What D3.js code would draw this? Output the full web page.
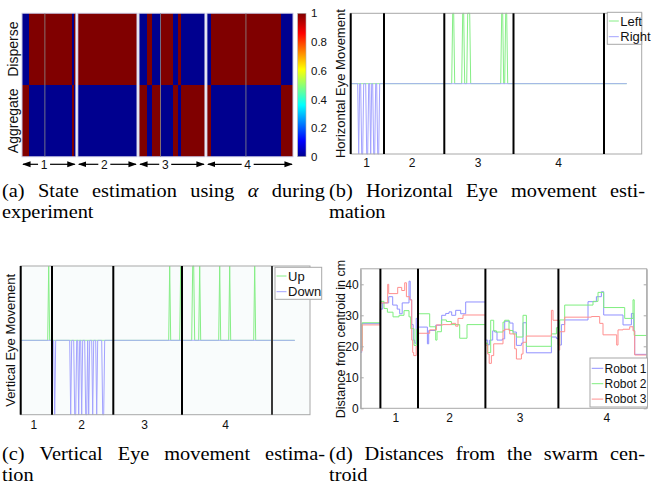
<!DOCTYPE html>
<html>
<head>
<meta charset="utf-8">
<script src="https://cdn.jsdelivr.net/npm/d3@7"></script>
<style>
  body { margin: 0; background: #fff; }
  svg { display: block; }
  .ax text, .lbl { font-family: Arial, "Liberation Sans", sans-serif; fill: #111; }
  .cap text { font-family: "Liberation Serif", "Times New Roman", serif; font-size: 18.5px; fill: #000; }
</style>
</head>
<body>
<svg id="fig" width="653" height="485"></svg>
<script>
// ---------- data ----------
// (a) state of alpha per phase, run-length: [Disperse value, samples]
const alphaRuns = [
  [[0, 5], [1, 32], [0, 2], [1, 1]],
  [[1, 44]],
  [[0, 6], [1, 4], [0, 6], [1, 9], [0, 4], [1, 2], [0, 18]],
  [[0, 3], [1, 52], [0, 9]]
];
const alphaEdges = [[0, 17], [2, 16], [3, 29]];   // [phase, sample] faint cell edges
const alphaLabelAt = [16.4, 19.7, 19.5, 30.3];
const phases = ["1", "2", "3", "4"];
const states = ["Disperse", "Aggregate"];
const colorTicks = [0, 0.2, 0.4, 0.6, 0.8, 1];

// (b) horizontal eye movement: samples where the saccade flag is on
const hBounds = [0, 33.3, 93.6, 162.8, 253.3];
const hLabelAt = [15.5, 61, 127, 207.5];
const hEnd = 276;
const leftOn = [102, 103, 112, 113, 117, 118, 119, 151, 152, 155, 156];
const rightOn = [8, 11, 12, 16, 17, 20, 23, 24, 27, 28];

// (c) vertical eye movement
const vBounds = [0, 31.3, 92.6, 161.3, 251.3];
const vLabelAt = [12.6, 60.3, 123.3, 204.3];
const vEnd = 274;
const upOn = [28, 149, 160, 172, 173, 179, 199, 209, 234];
const downOn = [34, 50, 54, 55, 58, 61, 65, 66, 68, 72, 76, 82, 83];

// (d) distance from swarm centroid (cm), [time, value] steps
const dBounds = [19.7, 57.3, 124.7, 197.7];
const dLabelAt = [34.7, 88.3, 159, 245.7];
const dTicks = [0, 10, 20, 30, 40];
const robot1 = [[0,18],[1,27.3],[19.7,32],[22,34],[28,36],[32,33.3],[36.5,32],[39,30.5],[41.5,34],[48.3,41],[49.5,35],[51,27],[52.5,22],[54,21],[55.5,29],
  [57.3,26.2],[66.7,20.8],[68,25.1],[75,26.8],[81,30],[85,30.6],[88.3,31.1],[91,30],[95,31.6],[100,30.5],[105,34.3],
  [124.7,22],[127,20.5],[129,22],[132,25],[134,24.6],[136.3,22],[141.7,22.4],[144,28.1],[149,27.5],[152.3,24.6],[155.7,20.3],[160.7,21],[162.3,27.6],[165.7,17.9],[190.7,23],[195.7,22.5],
  [197.7,20.4],[200.7,27],[204,28.5],[227.3,34.4],[235.7,36],[240.7,37.6],[243,30.1],[262.3,26.9],[270.7,30.6],[273,25],[274,17.4],[286,17.4]];
const robot2 = [[0,19],[1.5,27.6],[19.7,34.5],[23.3,32.2],[26.7,31],[32.3,29.5],[38.3,30],[43.3,31.5],[48.3,29.5],[50,25.7],[53.3,20.3],[55.7,25.5],
  [57.3,30.5],[69,26.3],[75,22],[76.3,24.7],[80.7,28.5],[85.7,28],[90.7,27],[99,22.6],[106.3,27],
  [124.7,21],[127,18],[130,28.4],[133,25],[135.7,24.6],[142.3,27.8],[144,28.4],[148.3,25.1],[152.3,24],[155.7,23],[162.3,30],[165.7,20],[190.7,24],[195.7,26],
  [197.7,20.4],[199,28.5],[204,33.3],[232.3,34.5],[237.3,37.4],[243,32.5],[264,29],[272.3,35],[273.5,23.5],[286,23.5]];
const robot3 = [[0,18.5],[1.5,26.9],[19.7,34],[27,40],[28,37],[37,39],[41,38],[44,40.5],[45.7,36],[49,35],[51,22],[52,18],[53,17],[55.5,20],
  [57.3,24.2],[69,25.3],[75.7,26.9],[82.3,27],[90.7,27.4],[95,26.5],[97.3,29],[102.3,30.1],
  [124.7,20.4],[127,17.5],[128.5,14.5],[130.7,17],[133,20.8],[142.3,25.1],[144,25.5],[149,24],[154,19.2],[155.7,15.9],[160.7,17.5],[162.3,21.3],[165.7,23.3],[190.7,31.6],[192.3,28.4],
  [197.7,18.8],[199,24.7],[204,29.4],[230.7,29.6],[239,27.4],[242.3,23.7],[256,20.4],[257.3,25.3],[262.3,25.5],[269,26.3],[272.3,25],[274,17.2],[286,17.2]];

const captions = [
  {x0: 2, x1: 325, y: 197, lines: ["(a) State estimation using α during", "experiment"]},
  {x0: 329, x1: 645, y: 197, lines: ["(b) Horizontal Eye movement esti-", "mation"]},
  {x0: 2, x1: 325, y: 460, lines: ["(c) Vertical Eye movement estima-", "tion"]},
  {x0: 329, x1: 645, y: 460, lines: ["(d) Distances from the swarm cen-", "troid"]}
];

const svg = d3.select("#fig");
const boxGray = "#a8a8a8";

// jet colormap
const jet = d3.scaleLinear()
  .domain([0, 0.11, 0.36, 0.61, 0.86, 1])
  .range(["#00008f", "#0000ff", "#00ffff", "#ffff00", "#ff0000", "#800000"]);

// ---------- (a) heatmap ----------
function drawHeatmap() {
  const gap = 1.5;
  const sizes = alphaRuns.map(r => d3.sum(r, d => d[1]));
  const offsets = [];
  let acc = 0;
  sizes.forEach(s => { offsets.push(acc); acc += s + gap; });
  const total = acc - gap;
  const x = d3.scaleLinear().domain([0, total]).range([22, 293]);
  const y = d3.scaleBand().domain(states).range([13.3, 156.7]);
  const g = svg.append("g");

  alphaRuns.forEach((runs, p) => {
    let t = offsets[p];
    runs.forEach(([v, n]) => {
      states.forEach((s, k) => {
        g.append("rect")
          .attr("x", x(t)).attr("width", x(t + n) - x(t))
          .attr("y", y(s)).attr("height", y.bandwidth())
          .attr("fill", jet(k === 0 ? v : 1 - v))
          .attr("shape-rendering", "crispEdges");
      });
      t += n;
    });
    g.append("rect")
      .attr("x", x(offsets[p])).attr("width", x(offsets[p] + sizes[p]) - x(offsets[p]))
      .attr("y", 13.3).attr("height", 143.4)
      .attr("fill", "none").attr("stroke", "#c9c9e4").attr("stroke-width", 1);
  });
  alphaEdges.forEach(([p, s]) => {
    g.append("line")
      .attr("x1", x(offsets[p] + s)).attr("x2", x(offsets[p] + s))
      .attr("y1", 13.3).attr("y2", 156.7)
      .attr("stroke", "#8a8a8a").attr("stroke-width", 1).attr("opacity", 0.8);
  });

  // row labels
  states.forEach(s => {
    svg.append("text").attr("class", "lbl")
      .attr("transform", `translate(18,${y(s) + y.bandwidth() / 2}) rotate(-90)`)
      .attr("text-anchor", "middle").style("font-size", "14px").text(s);
  });

  // phase arrows
  const defs = svg.append("defs");
  defs.append("marker").attr("id", "arr").attr("viewBox", "0 0 10 10")
    .attr("refX", 9).attr("refY", 5).attr("markerWidth", 7).attr("markerHeight", 7)
    .attr("orient", "auto-start-reverse")
    .append("path").attr("d", "M0,1.5L10,5L0,8.5Z").attr("fill", "#000");
  const ay = 164.3;
  alphaRuns.forEach((r, p) => {
    const x0 = x(offsets[p]), x1 = x(offsets[p] + sizes[p]), xm = x(offsets[p] + alphaLabelAt[p]);
    g.append("line").attr("x1", xm - 6).attr("x2", x0 + 1).attr("y1", ay).attr("y2", ay)
      .attr("stroke", "#000").attr("stroke-width", 1.2).attr("marker-end", "url(#arr)");
    g.append("line").attr("x1", xm + 6).attr("x2", x1 - 1).attr("y1", ay).attr("y2", ay)
      .attr("stroke", "#000").attr("stroke-width", 1.2).attr("marker-end", "url(#arr)");
    g.append("text").attr("class", "lbl").attr("x", xm).attr("y", ay)
      .attr("text-anchor", "middle").attr("dy", "0.36em").style("font-size", "12px").text(phases[p]);
  });

  // colorbar
  const grad = defs.append("linearGradient").attr("id", "jetg")
    .attr("x1", 0).attr("y1", 1).attr("x2", 0).attr("y2", 0);
  jet.domain().forEach((d, i) => grad.append("stop").attr("offset", d).attr("stop-color", jet.range()[i]));
  const cy = d3.scaleLinear().domain([0, 1]).range([156.7, 13.3]);
  svg.append("rect").attr("x", 297.7).attr("y", 13.3).attr("width", 8.3).attr("height", 143.4)
    .attr("fill", "url(#jetg)").attr("stroke", "#b0b0b0").attr("stroke-width", 0.6);
  const cax = svg.append("g").attr("class", "ax").attr("transform", "translate(306,0)")
    .call(d3.axisRight(cy).tickValues(colorTicks).tickFormat(d3.format("~g")).tickSize(0).tickPadding(5));
  cax.select(".domain").remove();
  cax.selectAll("text").style("font-size", "11.5px");
}

// ---------- (b), (c) eye movement ----------
function drawEye(o) {
  const x = d3.scaleLinear().domain(o.domain).range([o.left, o.right]);
  const y = d3.scaleLinear().domain([-1, 1]).range([o.bottom, o.top]);
  const g = svg.append("g");
  if (o.bg) g.append("rect").attr("x", o.left).attr("y", o.top)
    .attr("width", o.right - o.left).attr("height", o.bottom - o.top).attr("fill", o.bg);

  const samples = d3.range(0, o.end + 1);
  const line = d3.line().x(d => x(d.t)).y(d => y(d.v));
  const posSeries = samples.map(t => ({t, v: o.posOn.includes(t) ? 1 : 0}));
  const negSeries = samples.map(t => ({t, v: o.negOn.includes(t) ? -1 : 0}));
  g.append("path").datum(posSeries).attr("d", line)
    .attr("fill", "none").attr("stroke", "#86ee86").attr("stroke-width", 1);
  g.append("path").datum(negSeries).attr("d", line)
    .attr("fill", "none").attr("stroke", "#a3a3ff").attr("stroke-width", 1);

  // axes box
  g.append("rect").attr("x", o.left).attr("y", o.top)
    .attr("width", o.right - o.left).attr("height", o.bottom - o.top)
    .attr("fill", "none").attr("stroke", boxGray).attr("stroke-width", 1);

  // phase separators
  o.bounds.forEach((b, i) => {
    g.append("line").attr("x1", x(b)).attr("x2", x(b)).attr("y1", o.top).attr("y2", o.bottom)
      .attr("stroke", (o.lastGray && i === o.bounds.length - 1) ? "#3a3a3a" : "#000")
      .attr("stroke-width", 2);
  });

  const xa = g.append("g").attr("class", "ax").attr("transform", `translate(0,${o.bottom})`)
    .call(d3.axisBottom(x).tickValues(o.labelAt).tickFormat((d, i) => phases[i]).tickSize(0).tickPadding(o.pad));
  xa.select(".domain").remove();
  xa.selectAll("text").style("font-size", "12px");

  svg.append("text").attr("class", "lbl")
    .attr("transform", `translate(${o.ylabX},${(o.top + o.bottom) / 2}) rotate(-90)`)
    .attr("text-anchor", "middle").style("font-size", "13px").text(o.ylabel);

  // legend
  const L = o.legend;
  const lg = svg.append("g");
  lg.append("rect").attr("x", L.x).attr("y", L.y).attr("width", L.w).attr("height", L.h)
    .attr("fill", "#fff").attr("stroke", boxGray).attr("stroke-width", 1);
  [["#86ee86", o.names[0]], ["#a3a3ff", o.names[1]]].forEach(([c, n], i) => {
    const yy = L.y + 8.7 + i * 15.7;
    lg.append("line").attr("x1", L.x + 1.5).attr("x2", L.x + 11.5).attr("y1", yy).attr("y2", yy)
      .attr("stroke", c).attr("stroke-width", 1);
    lg.append("text").attr("class", "lbl").attr("x", L.x + 13).attr("y", yy).attr("dy", "0.35em")
      .style("font-size", "13px").text(n);
  });
}

// ---------- (d) distances ----------
function drawDist() {
  const left = 360.7, right = 646.7, top = 268.8, bottom = 408.3;
  const x = d3.scaleLinear().domain([0, 286]).range([left, right]);
  const y = d3.scaleLinear().domain([0, 45]).range([bottom, top]);
  const g = svg.append("g");
  const line = d3.line().x(d => x(d[0])).y(d => y(d[1])).curve(d3.curveStepAfter);
  const series = [[robot1, "#9090ff", "Robot 1"], [robot2, "#7fee7f", "Robot 2"], [robot3, "#ff8f8f", "Robot 3"]];
  series.forEach(([data, c]) => {
    g.append("path").datum(data).attr("d", line)
      .attr("fill", "none").attr("stroke", c).attr("stroke-width", 1);
  });

  g.append("rect").attr("x", left).attr("y", top).attr("width", right - left).attr("height", bottom - top)
    .attr("fill", "none").attr("stroke", boxGray).attr("stroke-width", 1);

  const ya = g.append("g").attr("class", "ax").attr("transform", `translate(${left},0)`)
    .call(d3.axisLeft(y).tickValues(dTicks).tickSizeInner(-3).tickSizeOuter(0).tickPadding(2));
  ya.select(".domain").attr("stroke", boxGray);
  ya.selectAll("line").attr("stroke", boxGray);
  ya.selectAll("text").style("font-size", "12px");
  const yr = g.append("g").attr("transform", `translate(${right},0)`)
    .call(d3.axisRight(y).tickValues(dTicks).tickSizeInner(-3).tickSizeOuter(0).tickFormat(""));
  yr.select(".domain").attr("stroke", boxGray);
  yr.selectAll("line").attr("stroke", boxGray);

  dBounds.forEach(b => {
    g.append("line").attr("x1", x(b)).attr("x2", x(b)).attr("y1", top).attr("y2", bottom)
      .attr("stroke", "#000").attr("stroke-width", 2);
  });

  const xa = g.append("g").attr("class", "ax").attr("transform", `translate(0,${bottom})`)
    .call(d3.axisBottom(x).tickValues(dLabelAt).tickFormat((d, i) => phases[i]).tickSize(0).tickPadding(5.5));
  xa.select(".domain").remove();
  xa.selectAll("text").style("font-size", "12px");

  svg.append("text").attr("class", "lbl")
    .attr("transform", `translate(345,339) rotate(-90)`)
    .attr("text-anchor", "middle").style("font-size", "12.5px").text("Distance from centroid in cm");

  const lg = svg.append("g");
  lg.append("rect").attr("x", 590).attr("y", 358).attr("width", 57.5).attr("height", 49)
    .attr("fill", "#fff").attr("stroke", boxGray).attr("stroke-width", 1);
  series.forEach(([, c, n], i) => {
    const yy = 368.3 + i * 15.4;
    lg.append("line").attr("x1", 591.7).attr("x2", 603.3).attr("y1", yy).attr("y2", yy)
      .attr("stroke", c).attr("stroke-width", 1);
    lg.append("text").attr("class", "lbl").attr("x", 604.5).attr("y", yy).attr("dy", "0.35em")
      .style("font-size", "12px").text(n);
  });
}

// ---------- captions (justified, glyphs slightly wide as in the scan) ----------
function drawCaptions() {
  const sx = 1.1;
  const g = svg.append("g").attr("class", "cap");
  captions.forEach(c => {
    c.lines.forEach((ln, li) => {
      const words = ln.split(" ");
      const yy = c.y + li * 20.5;
      const nodes = words.map(w => g.append("text").text(w)
        .style("font-style", w === "α" ? "italic" : null));
      const widths = nodes.map(n => n.node().getComputedTextLength() * sx);
      const justify = li === 0 && words.length > 1;
      const gapW = justify ? (c.x1 - c.x0 - d3.sum(widths)) / (words.length - 1) : 5;
      let xx = c.x0;
      nodes.forEach((n, i) => {
        n.attr("transform", `translate(${xx},${yy}) scale(${sx},1)`);
        xx += widths[i] + gapW;
      });
    });
  });
}

drawHeatmap();
drawEye({
  domain: [0, 291], left: 350.7, right: 641.7, top: 13.3, bottom: 154,
  end: hEnd, posOn: leftOn, negOn: rightOn, bounds: hBounds, labelAt: hLabelAt, pad: 4.5,
  ylabel: "Horizontal Eye Movement", ylabX: 345, names: ["Left", "Right"],
  legend: {x: 607.3, y: 12.3, w: 34.4, h: 32}
});
drawEye({
  domain: [0, 289.3], left: 20.7, right: 310, top: 266, bottom: 414.7, bg: "#f9fcfc",
  end: vEnd, posOn: upOn, negOn: downOn, bounds: vBounds, labelAt: vLabelAt, pad: 6, lastGray: true,
  ylabel: "Vertical Eye Movement", ylabX: 15, names: ["Up", "Down"],
  legend: {x: 275, y: 267.3, w: 46.7, h: 32}
});
drawDist();
drawCaptions();
</script>
</body>
</html>
